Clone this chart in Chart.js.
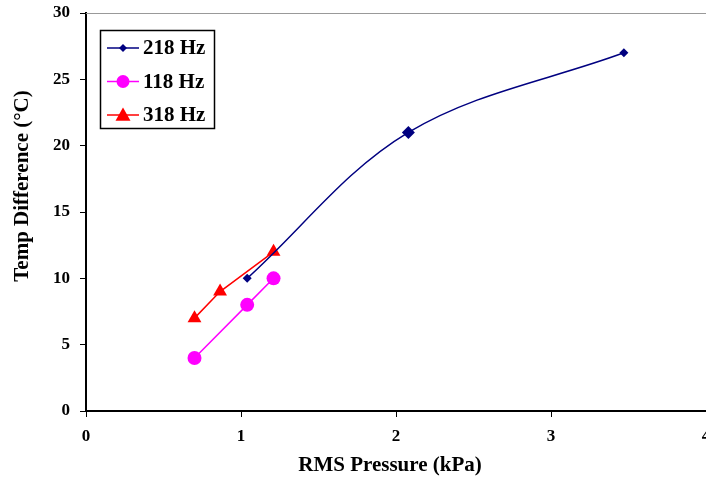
<!DOCTYPE html>
<html><head><meta charset="utf-8">
<script src="https://cdn.jsdelivr.net/npm/chart.js@4/dist/chart.umd.min.js"></script>
<style>html,body{margin:0;padding:0;background:#fff;overflow:hidden}#w{width:706px;height:482px}</style>
</head><body><div id="w"><canvas id="c"></canvas></div>
<script>
const seriesNames = ["218 Hz", "118 Hz", "318 Hz"];
const x218 = [1.04, 2.08, 3.47];
const y218 = [10, 21, 27];
const x118 = [0.70, 1.04, 1.21];
const y118 = [4, 8, 10];
const x318 = [0.70, 0.865, 1.21];
const y318 = [7, 9, 12];
const xTicks = [0, 1, 2, 3, 4];
const yTicks = [0, 5, 10, 15, 20, 25, 30];
const xTitle = "RMS Pressure (kPa)";
const yTitle = "Temp Difference (°C)";

const pts = (xs, ys) => xs.map((x, i) => ({x, y: ys[i]}));
const FONT = "'Liberation Serif','Times New Roman',serif";

const legendPlugin = {
  id: 'boxLegend',
  afterDraw(chart) {
    const ctx = chart.ctx;
    const bx = 100, by = 30, bw = 114, bh = 98;
    ctx.save();
    ctx.fillStyle = '#fff';
    ctx.fillRect(bx, by, bw, bh);
    ctx.strokeStyle = '#000';
    ctx.lineWidth = 1.5;
    ctx.strokeRect(bx + 0.5, by + 0.5, bw, bh);
    chart.data.datasets.forEach((ds, i) => {
      const cy = by + 18 + i * 33.5;
      ctx.strokeStyle = ds.borderColor;
      ctx.lineWidth = 1.5;
      ctx.beginPath(); ctx.moveTo(107, cy); ctx.lineTo(139, cy); ctx.stroke();
      const r = ds.legendRadius;
      ctx.fillStyle = ds.backgroundColor;
      ctx.beginPath();
      if (ds.pointStyle === 'circle') { ctx.arc(123, cy, r, 0, Math.PI*2); }
      else if (ds.pointStyle === 'triangle') { ctx.moveTo(123, cy - r); ctx.lineTo(123 + r, cy + r*0.75); ctx.lineTo(123 - r, cy + r*0.75); ctx.closePath(); }
      else { ctx.moveTo(123, cy - r); ctx.lineTo(123 + r, cy); ctx.lineTo(123, cy + r); ctx.lineTo(123 - r, cy); ctx.closePath(); }
      ctx.fill();
      ctx.fillStyle = '#000';
      ctx.font = "bold 21px " + FONT;
      ctx.textBaseline = 'middle';
      ctx.textAlign = 'left';
      ctx.fillText(ds.label, 143, cy + 1);
    });
    // axis titles
    ctx.fillStyle = '#000';
    ctx.font = "bold 21px " + FONT;
    ctx.textAlign = 'center';
    ctx.textBaseline = 'middle';
    ctx.fillText(xTitle, 390, 466);
    ctx.save();
    ctx.translate(23, 186);
    ctx.rotate(-Math.PI / 2);
    ctx.fillText(yTitle, 0, 0);
    ctx.restore();
    ctx.restore();
  },
  beforeDatasetsDraw(chart) {
    const a = chart.chartArea, ctx = chart.ctx;
    ctx.save();
    ctx.strokeStyle = '#999';
    ctx.lineWidth = 1;
    ctx.beginPath(); ctx.moveTo(a.left, a.top + 0.5); ctx.lineTo(a.right, a.top + 0.5); ctx.stroke();
    ctx.restore();
  }
};

new Chart(document.getElementById('c'), {
  type: 'scatter',
  data: {
    datasets: [
      {label: seriesNames[0], data: pts(x218, y218), showLine: true, tension: 0.35,
       borderColor: '#000080', backgroundColor: '#000080', borderWidth: 1.5,
       pointStyle: 'rectRot', pointRadius: [4.5, 6.5, 4.5], legendRadius: 4, pointBorderWidth: 0},
      {label: seriesNames[1], data: pts(x118, y118), showLine: true, tension: 0,
       borderColor: '#FF00FF', backgroundColor: '#FF00FF', borderWidth: 1.5,
       pointStyle: 'circle', pointRadius: 7, legendRadius: 6.5, pointBorderWidth: 0},
      {label: seriesNames[2], data: pts(x318, y318), showLine: true, tension: 0,
       borderColor: '#FF0000', backgroundColor: '#FF0000', borderWidth: 1.5,
       pointStyle: 'triangle', pointRadius: 8, legendRadius: 7.5, pointBorderWidth: 0}
    ]
  },
  options: {
    responsive: true, maintainAspectRatio: false, animation: false,
    devicePixelRatio: 1,
    layout: {padding: {top: 13, right: 0, left: 0, bottom: 0}, autoPadding: false},
    plugins: {legend: {display: false}, tooltip: {enabled: false}},
    scales: {
      x: {
        type: 'linear', min: 0, max: 4,
        afterBuildTicks: s => { s.ticks = xTicks.map(v => ({value: v})); },
        afterFit: s => { s.height = 71; s.paddingLeft = 0; s.paddingRight = 0; s.paddingTop = 0; s.paddingBottom = 0; },
        grid: {drawOnChartArea: false, drawTicks: true, tickLength: 6, color: '#000', lineWidth: 1},
        border: {display: true, color: '#000', width: 2},
        ticks: {color: '#000', font: {family: FONT, size: 17, weight: 'bold'}, padding: 9, maxRotation: 0},
        title: {display: false}
      },
      y: {
        type: 'linear', min: 0, max: 30,
        afterBuildTicks: s => { s.ticks = yTicks.map(v => ({value: v})); },
        afterFit: s => { s.width = 86; s.paddingLeft = 0; s.paddingRight = 0; s.paddingTop = 0; s.paddingBottom = 0; },
        grid: {drawOnChartArea: false, drawTicks: true, tickLength: 6, color: '#000', lineWidth: 1},
        border: {display: true, color: '#000', width: 2},
        ticks: {color: '#000', font: {family: FONT, size: 17, weight: 'bold'}, padding: 10},
        title: {display: false}
      }
    }
  },
  plugins: [legendPlugin]
});
</script></body></html>
